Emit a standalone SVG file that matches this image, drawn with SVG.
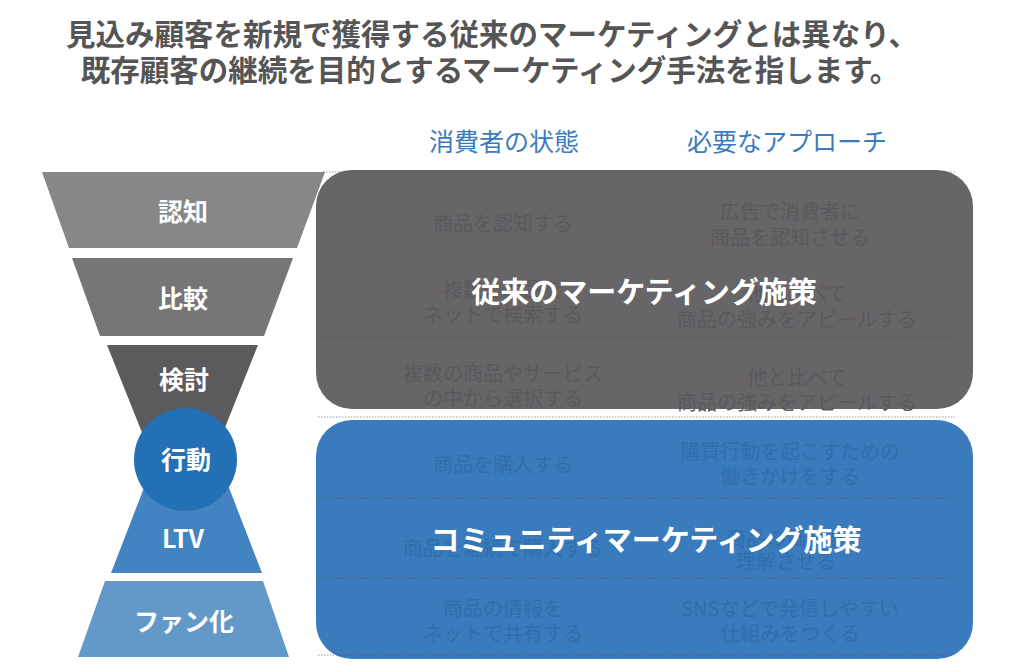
<svg xmlns="http://www.w3.org/2000/svg" width="1024" height="672" viewBox="0 0 1024 672">
<style>
text{font-family:"Noto Sans CJK JP","Noto Sans",sans-serif;dominant-baseline:central;text-anchor:middle}
.title{font-size:29.5px;font-weight:700;fill:#555555}
.head{font-size:25px;fill:#3a7bbf}
.fl{font-size:25px;font-weight:700;fill:#ffffff}
.hg{font-size:20px;fill:#5b595c}
.hb{font-size:20px;fill:#316ead}
.big{font-size:29px;font-weight:700;fill:#ffffff}
.dot{stroke:#555555;stroke-opacity:0.6;stroke-width:1.2;stroke-dasharray:1.5 1.5;fill:none}
</style>
<rect width="1024" height="672" fill="#ffffff"/>
<g id="title">
<text class="title" x="492" y="32">見込み顧客を新規で獲得する従来のマーケティングとは異なり、</text>
<text class="title" x="490" y="68">既存顧客の継続を目的とするマーケティング手法を指します。</text>
</g>
<g id="headers">
<text class="head" x="504" y="140">消費者の状態</text>
<text class="head" x="787" y="140">必要なアプローチ</text>
</g>
<g id="funnel">
<g id="n-ninchi"><polygon points="42,172 325,172 297,248 69,248" fill="#878787"/><text class="fl" x="183" y="210">認知</text></g>
<g id="n-hikaku"><polygon points="72,258 293,258 264,336 100,336" fill="#777677"/><text class="fl" x="183" y="297">比較</text></g>
<g id="n-kentou"><polygon points="107,345 258,345 220,440 145,440" fill="#5c5a5d"/><text class="fl" x="184" y="378">検討</text></g>
<g id="n-ltv"><polygon points="147,480 226,480 262,573 111,573" fill="#4283c1"/><text class="fl" x="183" y="537">LTV</text></g>
<g id="n-koudou"><circle cx="185.5" cy="459.5" r="51.5" fill="#2370b5"/><text class="fl" x="186" y="458">行動</text></g>
<g id="n-fan"><polygon points="105,581 263,581 289,657 78,657" fill="#6399c8"/><text class="fl" x="184" y="620">ファン化</text></g>
</g>
<g id="traditional">
<rect x="316" y="170" width="657" height="239" rx="36" fill="#676568"/>
<text class="hg" x="503" y="222">商品を認知する</text>
<text class="hg" x="790" y="210">広告で消費者に</text>
<text class="hg" x="790" y="236">商品を認知させる</text>
<text class="hg" x="503" y="288">複数の商品を</text>
<text class="hg" x="503" y="313">ネットで検索する</text>
<text class="hg" x="797" y="292">他と比べて</text>
<text class="hg" x="797" y="318">商品の強みをアピールする</text>
<text class="hg" x="503" y="372">複数の商品やサービス</text>
<text class="hg" x="503" y="397">の中から選択する</text>
<text class="hg" x="797" y="376">他と比べて</text>
<text class="hg" x="797" y="401">商品の強みをアピールする</text>
</g>
<g id="community">
<rect x="316" y="420" width="657" height="239" rx="36" fill="#3a7bbd"/>
<text class="hb" x="503" y="463">商品を購入する</text>
<text class="hb" x="790" y="450">購買行動を起こすための</text>
<text class="hb" x="790" y="475">働きかけをする</text>
<text class="hb" x="503" y="547">商品を継続で購入する</text>
<text class="hb" x="786" y="537">商品の価値を</text>
<text class="hb" x="786" y="560">理解させる</text>
<text class="hb" x="503" y="607">商品の情報を</text>
<text class="hb" x="503" y="632">ネットで共有する</text>
<text class="hb" x="790" y="607">SNSなどで発信しやすい</text>
<text class="hb" x="790" y="632">仕組みをつくる</text>
</g>
<g id="connectors">
<line class="dot" x1="323" y1="172" x2="955" y2="172"/>
<line class="dot" x1="325" y1="256" x2="955" y2="256"/>
<line class="dot" x1="318" y1="337" x2="955" y2="337"/>
<line class="dot" x1="318" y1="417" x2="955" y2="417"/>
<line class="dot" x1="318" y1="498" x2="955" y2="498"/>
<line class="dot" x1="318" y1="578" x2="955" y2="578"/>
<line class="dot" x1="318" y1="655" x2="955" y2="655"/>
</g>
<g id="labels">
<text class="big" x="644" y="290">従来のマーケティング施策</text>
<text class="big" x="646" y="538">コミュニティマーケティング施策</text>
</g>
</svg>
